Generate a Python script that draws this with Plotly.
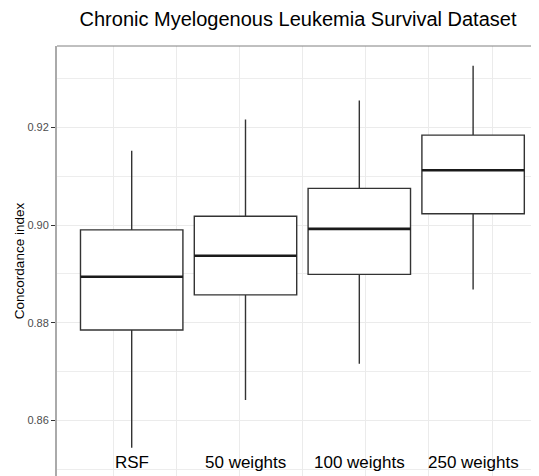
import plotly.graph_objects as go

categories = ["RSF", "50 weights", "100 weights", "250 weights"]
positions = [1, 2, 3, 4]
lower_whisker = [0.8544, 0.8642, 0.8716, 0.8868]
q1 = [0.8785, 0.8857, 0.8899, 0.9023]
median = [0.8894, 0.8937, 0.8992, 0.9112]
q3 = [0.8990, 0.9018, 0.9075, 0.9184]
upper_whisker = [0.9152, 0.9216, 0.9255, 0.9326]

y_ticks = [0.86, 0.88, 0.90, 0.92]
BOX_W = 0.9

# the page body adds an 8px margin, so the figure is sized to fit within it
W, H = 531, 468

fig = go.Figure()
fig.add_trace(go.Box(
    x=positions, q1=q1, median=median, q3=q3,
    lowerfence=lower_whisker, upperfence=upper_whisker,
    width=BOX_W, fillcolor="white",
    line=dict(color="#333333", width=1.4),
    whiskerwidth=0, showlegend=False, hoverinfo="skip",
))

# thicker median lines (ggplot style)
mx, my = [], []
for p, m in zip(positions, median):
    mx += [p - BOX_W / 2, p + BOX_W / 2, None]
    my += [m, m, None]
fig.add_trace(go.Scatter(x=mx, y=my, mode="lines",
                         line=dict(color="#1a1a1a", width=2.6),
                         showlegend=False, hoverinfo="skip"))

for p, c in zip(positions, categories):
    fig.add_annotation(x=p, y=0.8513, xref="x", yref="y", text=c,
                       showarrow=False, yanchor="middle",
                       font=dict(family="Liberation Sans, Arial", size=17, color="black"))

fig.add_shape(type="line", xref="paper", yref="paper", x0=0, x1=1, y0=1, y1=1,
              line=dict(color="#808080", width=1))

fig.update_layout(
    width=W, height=H,
    margin=dict(l=49, r=0, t=38, b=0),
    paper_bgcolor="white", plot_bgcolor="white",
    font=dict(family="Liberation Sans, Arial", color="black"),
    title=dict(text="Chronic Myelogenous Leukemia Survival Dataset",
               x=290 / W, xanchor="center",
               y=1 - 18 / H, yanchor="bottom",
               font=dict(size=20, color="black")),
    xaxis=dict(range=[0.3436, 4.579], showticklabels=False, ticks="",
               tick0=0.838, dtick=0.5547, showgrid=True,
               gridcolor="#ebebeb", gridwidth=1, zeroline=False, showline=False),
    yaxis=dict(range=[0.84862, 0.93664], tickvals=y_ticks,
               ticktext=[f"{v:.2f}" for v in y_ticks],
               ticks="outside", ticklen=4, tickcolor="#333333", tickwidth=1,
               tickfont=dict(size=11, color="#4d4d4d"),
               showgrid=True, gridcolor="#ebebeb", gridwidth=1,
               minor=dict(dtick=0.01, tick0=0.85, showgrid=True,
                          gridcolor="#ededed", gridwidth=1, ticks=""),
               zeroline=False, showline=True, linecolor="#aaaaaa", linewidth=2,
               title=dict(text="Concordance index", font=dict(size=13.5, color="black"),
                          standoff=0)),
)

fig.write_html("out.html")
